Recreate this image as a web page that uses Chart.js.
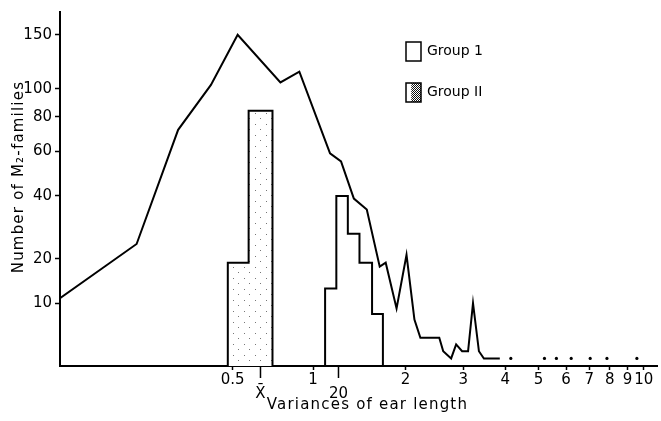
<!DOCTYPE html>
<html><head><meta charset="utf-8">
<script src="https://cdn.jsdelivr.net/npm/chart.js@4.4.1/dist/chart.umd.min.js"></script>
<style>html,body{margin:0;padding:0;background:#fff;}</style>
</head><body>
<canvas id="c" width="661" height="421"></canvas>
<script>
// ---- data ----
const curveX = [0, 0.157, 0.280, 0.403, 0.524, 0.766, 0.896, 1.143, 1.244, 1.371, 1.510, 1.661, 1.735, 1.877, 2.016, 2.133, 2.225, 2.541, 2.612, 2.760, 2.857, 2.977, 3.102, 3.209, 3.342, 3.457, 3.852];
const curveY = [11, 24, 72, 103, 150, 105, 114, 59, 55, 39, 35, 18, 19, 9, 21, 7, 4, 4, 2, 1, 3, 2, 2, 10, 2, 1, 1];
const dotX = [4.15, 5.20, 5.63, 6.21, 7.04, 7.86, 9.56];
const dotY = [1, 1, 1, 1, 1, 1, 1];
const group1Edges = [1.10, 1.20, 1.31, 1.43, 1.57, 1.70];
const group1Counts = [13, 40, 27, 19, 8];
const group2Edges = [0.477, 0.580, 0.716];
const group2Counts = [19, 84];
const xTickValues = [0.5, 1, 2, 3, 4, 5, 6, 7, 8, 9, 10];
const yTickValues = [10, 20, 40, 60, 80, 100, 150];
const markerValues = [0.645, 1.22];
const markerLabels = ['X\u0304', '20'];
const seriesLabels = ['Group 1', 'Group II'];

// ---- shifted-log scale: position ~ log10(value + shift) ----
class ShiftLogScale extends Chart.LinearScale {
  configure() {
    super.configure();
    const c = this.options.shift || 0;
    this._fStart = Math.log10(this.min + c);
    this._fEnd = Math.log10(this.max + c);
  }
  getPixelForValue(v) {
    const c = this.options.shift || 0;
    const f = Math.log10(v + c);
    return this.getPixelForDecimal((f - this._fStart) / (this._fEnd - this._fStart));
  }
  getValueForPixel(p) {
    const c = this.options.shift || 0;
    const d = this.getDecimalForPixel(p);
    return Math.pow(10, this._fStart + d * (this._fEnd - this._fStart)) - c;
  }
  drawTitle() {
    const c = this.ctx;
    const prev = c.letterSpacing;
    c.letterSpacing = this.options.titleSpacing || '0px';
    super.drawTitle();
    c.letterSpacing = prev;
  }
}
ShiftLogScale.id = 'shiftlog';
ShiftLogScale.defaults = {};
Chart.register(ShiftLogScale);

const canvas = document.getElementById('c');
const ctx = canvas.getContext('2d');

function makePattern(dots, size, dark) {
  const c = document.createElement('canvas');
  c.width = c.height = size;
  const g = c.getContext('2d');
  g.fillStyle = '#fff'; g.fillRect(0, 0, size, size);
  g.fillStyle = dark;
  dots.forEach(d => g.fillRect(d[0], d[1], 1, 1));
  return ctx.createPattern(c, 'repeat');
}
const barSpeckle = makePattern([[2,3],[7,8]], 11, '#777');
const legendSpeckle = makePattern([[0,0],[1,1],[2,0],[0,2],[2,2],[1,3],[3,1],[3,3]], 4, '#111');

function outline(edges, counts) {
  const pts = [{x: edges[0], y: 0}];
  counts.forEach((c, i) => pts.push({x: edges[i], y: c}));
  pts.push({x: edges[edges.length - 1], y: 0});
  return pts;
}

const FONT = 'DejaVu Sans';
const FS = 15;

const markerPlugin = {
  id: 'markers',
  afterDraw(chart) {
    const xs = chart.scales.x;
    const base = chart.chartArea.bottom;
    const c = chart.ctx;
    c.save();
    c.strokeStyle = '#000'; c.lineWidth = 1.5;
    c.fillStyle = '#000';
    c.font = FS + 'px "' + FONT + '"';
    c.textAlign = 'center'; c.textBaseline = 'middle';
    markerValues.forEach((v, i) => {
      const px = xs.getPixelForValue(v);
      c.beginPath(); c.moveTo(px, base); c.lineTo(px, base + 12); c.stroke();
      c.fillText(markerLabels[i], px, base + 28);
    });
    c.restore();
  }
};

const legendPlugin = {
  id: 'groupLegend',
  afterDraw(chart, args, o) {
    const c = chart.ctx;
    c.save();
    o.items.forEach((di, i) => {
      const ds = chart.data.datasets[di];
      const x = o.x, y = o.y + i * o.gap;
      c.fillStyle = '#fff';
      c.fillRect(x, y, o.w, o.h);
      if (ds.legendFill) { c.fillStyle = ds.legendFill; c.fillRect(x + o.w * 0.35, y, o.w * 0.65, o.h); }
      c.lineWidth = 1.5; c.strokeStyle = '#000';
      c.strokeRect(x, y, o.w, o.h);
      c.fillStyle = '#000';
      c.font = '14px "' + FONT + '"';
      c.textAlign = 'left'; c.textBaseline = 'middle';
      c.fillText(ds.label, x + o.w + 6, y + o.h / 2);
    });
    c.restore();
  }
};

new Chart(ctx, {
  type: 'line',
  data: {
    datasets: [
      {
        label: 'All M2-families',
        data: curveX.map((x, i) => ({x, y: curveY[i]})),
        borderColor: '#000', borderWidth: 2, pointRadius: 0, tension: 0, fill: false
      },
      {
        label: 'dots',
        data: dotX.map((x, i) => ({x, y: dotY[i]})),
        showLine: false, pointRadius: 1.6, pointBackgroundColor: '#000', pointBorderWidth: 0, borderColor: '#000'
      },
      {
        label: seriesLabels[0],
        data: outline(group1Edges, group1Counts),
        stepped: true, borderColor: '#000', borderWidth: 2, pointRadius: 0, fill: false
      },
      {
        label: seriesLabels[1],
        data: outline(group2Edges, group2Counts),
        stepped: true, borderColor: '#000', borderWidth: 2, pointRadius: 0,
        fill: 'origin', backgroundColor: barSpeckle, legendFill: legendSpeckle
      }
    ]
  },
  options: {
    responsive: false,
    animation: false,
    devicePixelRatio: 1,
    layout: {padding: {top: 10, right: 3, left: 0, bottom: 0}},
    plugins: {
      legend: {display: false},
      tooltip: {enabled: false},
      groupLegend: {items: [2, 3], x: 406, y: 42, gap: 41, w: 15, h: 19}
    },
    scales: {
      x: {
        type: 'shiftlog', shift: 0.25, min: 0, max: 10.9, bounds: 'data',
        afterBuildTicks: s => { s.ticks = xTickValues.map(v => ({value: v})); },
        afterFit: s => { s.height = 55; },
        ticks: {color: '#000', font: {family: FONT, size: FS}, padding: 1, maxRotation: 0, autoSkip: false, callback: v => String(v)},
        grid: {drawOnChartArea: false, drawTicks: true, tickLength: 4, tickColor: '#000', tickWidth: 1.5},
        border: {display: true, color: '#000', width: 2},
        titleSpacing: '1.2px',
        title: {display: true, text: '   Variances of ear length', color: '#000', font: {family: FONT, size: FS}, padding: {top: 0, bottom: 7}}
      },
      y: {
        type: 'shiftlog', shift: 20, min: 0, max: 177, bounds: 'data',
        afterBuildTicks: s => { s.ticks = yTickValues.map(v => ({value: v})); },
        afterFit: s => { s.width = 60; },
        ticks: {color: '#000', font: {family: FONT, size: FS}, padding: 3, autoSkip: false, callback: v => String(v)},
        grid: {drawOnChartArea: false, drawTicks: true, tickLength: 5, tickColor: '#000', tickWidth: 1.5},
        border: {display: true, color: '#000', width: 2},
        titleSpacing: '1.2px',
        title: {display: true, text: '    Number of M\u2082-families', color: '#000', font: {family: FONT, size: FS}, padding: {top: 10, bottom: 0}}
      }
    }
  },
  plugins: [markerPlugin, legendPlugin]
});
</script>
</body></html>
